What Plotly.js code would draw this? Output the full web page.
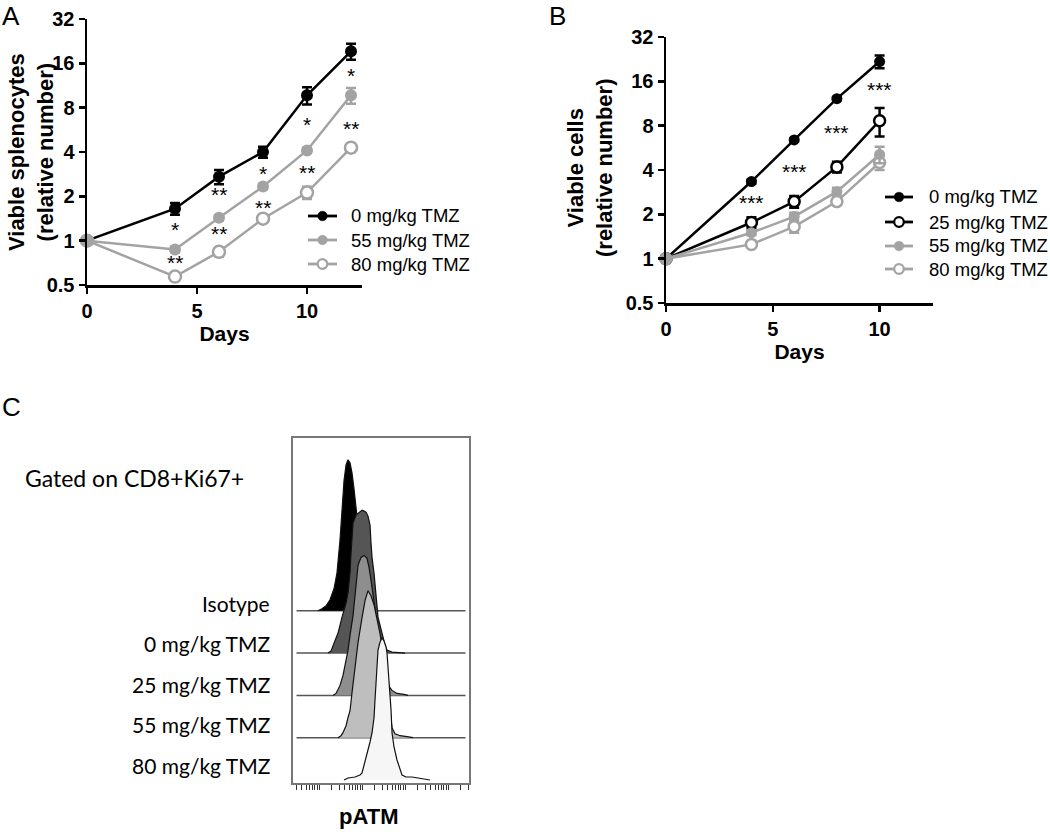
<!DOCTYPE html>
<html>
<head>
<meta charset="utf-8">
<script src="https://cdn.plot.ly/plotly-3.0.1.min.js"></script>
<style>
html,body{margin:0;padding:0;background:#fff;}
#chart{width:1050px;height:834px;}
</style>
</head>
<body>
<div id="chart"></div>
<script>
// ---------- Panel A data ----------
const daysA = [0, 4, 6, 8, 10, 12];
const a0 = [1, 1.65, 2.72, 4.0, 9.7, 19.3];
const a0Err = [0, 0.15, 0.3, 0.35, 1.3, 2.4];
const a55 = [1, 0.87, 1.43, 2.33, 4.1, 9.7];
const a55Err = [0, 0.04, 0.06, 0.1, 0.15, 1.2];
const a80 = [1, 0.57, 0.84, 1.41, 2.12, 4.28];
const a80Err = [0, 0.03, 0.06, 0.07, 0.2, 0.3];
const sigADays = [4, 4, 6, 6, 8, 8, 10, 10, 12, 12];
const sigAVals = [1.21, 0.72, 2.09, 1.13, 2.9, 1.70, 6.24, 2.94, 13.4, 5.86];
const sigAText = ["*", "**", "**", "**", "*", "**", "*", "**", "*", "**"];

// ---------- Panel B data ----------
const daysB = [0, 4, 6, 8, 10];
const b0 = [1, 3.34, 6.4, 12.2, 21.8];
const b0Err = [0, 0.1, 0.15, 0.3, 2.2];
const b25 = [1, 1.76, 2.44, 4.2, 8.65];
const b25Err = [0, 0.15, 0.22, 0.35, 1.9];
const b55 = [1, 1.5, 1.93, 2.85, 5.1];
const b55Err = [0, 0.06, 0.12, 0.18, 0.65];
const b80 = [1, 1.25, 1.65, 2.44, 4.5];
const b80Err = [0, 0.05, 0.15, 0.1, 0.5];
const sigBDays = [4, 6, 8, 10];
const sigBVals = [2.44, 3.96, 7.3, 14.3];
const sigBText = ["***", "***", "***", "***"];

const yTickVals = [0.5, 1, 2, 4, 8, 16, 32];
const yTickText = ["0.5", "1", "2", "4", "8", "16", "32"];
const xTickVals = [0, 5, 10];

// ---------- Panel C data (pATM histograms) ----------
const histLabels = ["Isotype", "0 mg/kg TMZ", "25 mg/kg TMZ", "55 mg/kg TMZ", "80 mg/kg TMZ"];
const isoX = [95,117,146,180,223,262,308,343,381,425,472,526,585,652,725,807,898,1055,1239,1535,1901,2355];
const isoY = [0,2,5,11,22,38,71,104,130,146,151,148,138,122,105,85,62,40,22,10,4,0];
const tmz0X = [162,190,223,277,343,425,472,526,555,585,618,725,851,1000,1113,1239,1379,1535,1619,1709,1901,2006,2233,2355,2622,2918,3427,3815,4988,10000];
const tmz0Y = [0,2,10,20,36,50,60,80,100,113,130,138,141,143,142,141,137,128,110,96,80,70,53,36,28,20,8,3,1,0];
const tmz25X = [212,248,308,361,402,472,526,618,688,765,807,948,1113,1307,1455,1619,1803,2006,2233,2485,2766,3079,3616,4247,4988,6510,9474,11740];
const tmz25Y = [0,2,10,20,30,45,60,80,100,117,130,138,140,137,128,115,100,85,70,55,40,30,18,9,5,2,1,0];
const tmz55X = [277,325,361,425,472,526,585,688,807,1000,1174,1379,1619,1901,2233,2622,3079,3616,4025,4481,4988,5848,7650,11130,15350];
const tmz55Y = [0,2,5,12,20,27,45,70,95,120,137,147,142,133,120,104,85,65,45,25,10,4,2,1,0];
const tmz80X = [381,472,688,898,1000,1174,1379,1535,1709,1901,2006,2116,2233,2355,2622,2918,3249,3616,3815,4025,4247,4481,4728,4988,5553,6510,7650,8511,10550,14550,20050,27660,38120];
const tmz80Y = [0,2,3,5,7,18,30,38,47,62,80,100,118,130,138,142,139,133,127,112,100,90,70,47,33,20,11,5,3,3,2,1,0];
const histX = [isoX, tmz0X, tmz25X, tmz55X, tmz80X];
const histY = [isoY, tmz0Y, tmz25Y, tmz55Y, tmz80Y];
const histFill = ["#000000", "#555555", "#8e8e8e", "#bebebe", "#f6f6f6"];

// ---------- styling ----------
const BLACK = "#000000";
const GRAY = "#a3a3a3";
const FONT = "Liberation Sans, Arial, sans-serif";
const CFONT = "Lato, Open Sans, sans-serif";

function errObj(arr, color) {
  return {type: "data", array: arr, arrayminus: arr, color: color, thickness: 2.5, width: 5, visible: true};
}
function series(x, y, err, name, color, open, xa, ya, size) {
  return {
    x: x, y: y, name: name, type: "scatter", mode: "lines+markers",
    xaxis: xa, yaxis: ya, cliponaxis: false, showlegend: false,
    line: {color: color, width: 2.5},
    marker: {symbol: "circle", size: size, color: open ? "#ffffff" : color,
             line: {color: color, width: open ? 2.5 : 0}},
    error_y: errObj(err, color), hoverinfo: "x+y+name"
  };
}

const traces = [];
// Panel A
traces.push(series(daysA, a0, a0Err, "0 mg/kg TMZ", BLACK, false, "x", "y", 12));
traces.push(series(daysA, a80, a80Err, "80 mg/kg TMZ", GRAY, true, "x", "y", 12));
traces.push(series(daysA, a55, a55Err, "55 mg/kg TMZ", GRAY, false, "x", "y", 12));
// Panel B
traces.push(series(daysB, b0, b0Err, "0 mg/kg TMZ", BLACK, false, "x2", "y2", 11));
traces.push(series(daysB, b25, b25Err, "25 mg/kg TMZ", BLACK, true, "x2", "y2", 11));
traces.push(series(daysB, b80, b80Err, "80 mg/kg TMZ", GRAY, true, "x2", "y2", 11));
traces.push(series(daysB, b55, b55Err, "55 mg/kg TMZ", GRAY, false, "x2", "y2", 11));

// Panel C: offset histograms
const rowBase = 3, rowStep = 42.3;
for (let i = 0; i < histX.length; i++) {
  const off = rowBase + (histX.length - 1 - i) * rowStep;
  traces.push({
    x: histX[i], y: histY[i].map(v => v + off), type: "scatter", mode: "lines",
    xaxis: "x3", yaxis: "y3", fill: "toself", fillcolor: histFill[i],
    line: {color: "#111111", width: 1.2}, showlegend: false, hoverinfo: "skip", name: histLabels[i]
  });
}

const shapes = [];
for (let i = 0; i < histX.length - 1; i++) {
  const off = rowBase + (histX.length - 1 - i) * rowStep;
  shapes.push({type: "line", xref: "x3 domain", yref: "y3", x0: 0.02, x1: 0.98, y0: off, y1: off,
               line: {color: "#555555", width: 1.5}, layer: "below"});
}

const annotations = [];
function paperText(px, py, text, font, extra) {
  const a = Object.assign({x: px / 1050, y: 1 - py / 834, xref: "paper", yref: "paper", text: text,
    showarrow: false, xanchor: "center", yanchor: "middle", font: font}, extra || {});
  annotations.push(a);
}

// manual legends (keys drawn as layout shapes)
const legendA = {names: ["0 mg/kg TMZ", "55 mg/kg TMZ", "80 mg/kg TMZ"], colors: [BLACK, GRAY, GRAY], open: [false, false, true]};
const legendB = {names: ["0 mg/kg TMZ", "25 mg/kg TMZ", "55 mg/kg TMZ", "80 mg/kg TMZ"], colors: [BLACK, BLACK, GRAY, GRAY], open: [false, true, false, true]};
function drawLegend(leg, lineX0, lineX1, textX, rowY) {
  for (let i = 0; i < leg.names.length; i++) {
    const py = rowY[i], yy = 1 - py / 834, cx = (lineX0 + lineX1) / 2 / 1050;
    shapes.push({type: "line", xref: "paper", yref: "paper", x0: lineX0 / 1050, x1: lineX1 / 1050, y0: yy, y1: yy,
      line: {color: leg.colors[i], width: 2.8}});
    shapes.push({type: "circle", xref: "paper", yref: "paper", xsizemode: "pixel", ysizemode: "pixel",
      xanchor: cx, yanchor: yy, x0: -4.8, x1: 4.8, y0: -4.8, y1: 4.8,
      fillcolor: leg.open[i] ? "#ffffff" : leg.colors[i],
      line: {color: leg.colors[i], width: leg.open[i] ? 2.2 : 0.5}});
    paperText(textX, py, leg.names[i], {family: FONT, size: 18.5, color: "#000"}, {xanchor: "left"});
  }
}
drawLegend(legendA, 308, 337, 349, [216, 240, 264]);
drawLegend(legendB, 885, 913, 927, [197, 222, 246, 269]);

for (let i = 0; i < sigADays.length; i++) {
  annotations.push({x: sigADays[i], y: Math.log10(sigAVals[i]), xref: "x", yref: "y", text: sigAText[i],
    showarrow: false, yshift: -1, font: {family: FONT, size: 21, color: "#000"}});
}
for (let i = 0; i < sigBDays.length; i++) {
  annotations.push({x: sigBDays[i], y: Math.log10(sigBVals[i]), xref: "x2", yref: "y2", text: sigBText[i],
    showarrow: false, yshift: -1, font: {family: FONT, size: 21, color: "#000"}});
}
// panel letters
paperText(11, 0, "A", {family: FONT, size: 26, color: "#000"}, {yanchor: "top", borderpad: 0});
paperText(557, 0, "B", {family: FONT, size: 26, color: "#000"}, {yanchor: "top", borderpad: 0});
paperText(11, 407, "C", {family: FONT, size: 26, color: "#000"});
// y titles
paperText(31, 152, "Viable splenocytes<br>(relative number)", {family: FONT, size: 22, color: "#000", weight: "bold"}, {textangle: -90});
paperText(590, 168, "Viable cells<br>(relative number)", {family: FONT, size: 22, color: "#000", weight: "bold"}, {textangle: -90});
// panel C texts
paperText(23, 478, "Gated on CD8+Ki67+", {family: CFONT, size: 23, color: "#000"}, {xanchor: "left"});
for (let i = 0; i < histLabels.length; i++) {
  paperText(272, 603 + i * 40.5, histLabels[i], {family: CFONT, size: 21, color: "#000"}, {xanchor: "right"});
}
paperText(368, 816, "pATM", {family: FONT, size: 22, color: "#000", weight: "bold"});

const tickFont = {family: FONT, size: 20, color: "#000", weight: "bold"};
const titleFont = {family: FONT, size: 21, color: "#000", weight: "bold"};
function xAx(domain, anchor) {
  return {domain: domain, anchor: anchor, range: [0, 12.5], tickvals: xTickVals, showline: true,
    linecolor: "#000", linewidth: 2.5, ticks: "outside", ticklen: 6, tickwidth: 2.5, tickcolor: "#000",
    showgrid: false, zeroline: false, tickfont: tickFont, fixedrange: true,
    title: {text: "Days", font: titleFont, standoff: 6}};
}
function yAx(domain, anchor) {
  return {domain: domain, anchor: anchor, type: "log", range: [Math.log10(0.5), Math.log10(32)],
    tickvals: yTickVals, ticktext: yTickText, showline: true, linecolor: "#000", linewidth: 2.5,
    ticks: "outside", ticklen: 6, tickwidth: 2.5, tickcolor: "#000", showgrid: false, zeroline: false,
    tickfont: tickFont, fixedrange: true};
}

const layout = {
  width: 1050, height: 834, margin: {l: 0, r: 0, t: 0, b: 0},
  paper_bgcolor: "#ffffff", plot_bgcolor: "rgba(0,0,0,0)",
  font: {family: FONT, color: "#000"},
  showlegend: false,
  xaxis: xAx([87/1050, 362/1050], "y"),
  yaxis: yAx([1 - 285/834, 1 - 19/834], "x"),
  xaxis2: xAx([666/1050, 933/1050], "y2"),
  yaxis2: yAx([1 - 303/834, 1 - 37/834], "x2"),
  xaxis3: {domain: [293/1050, 469/1050], anchor: "y3", type: "log", range: [1.395, 5.488],
    showline: true, mirror: true, linecolor: "#777777", linewidth: 2, ticks: "outside", ticklen: 5,
    tickwidth: 1, tickcolor: "#333333", dtick: "D1", showticklabels: false, showgrid: false,
    zeroline: false, fixedrange: true},
  yaxis3: {domain: [1 - 783/834, 1 - 438/834], anchor: "x3", range: [0, 345], showline: true,
    mirror: true, linecolor: "#777777", linewidth: 2, ticks: "", showticklabels: false,
    showgrid: false, zeroline: false, fixedrange: true},
  shapes: shapes,
  annotations: annotations
};

Plotly.newPlot("chart", traces, layout, {staticPlot: true, displayModeBar: false});
</script>
</body>
</html>
